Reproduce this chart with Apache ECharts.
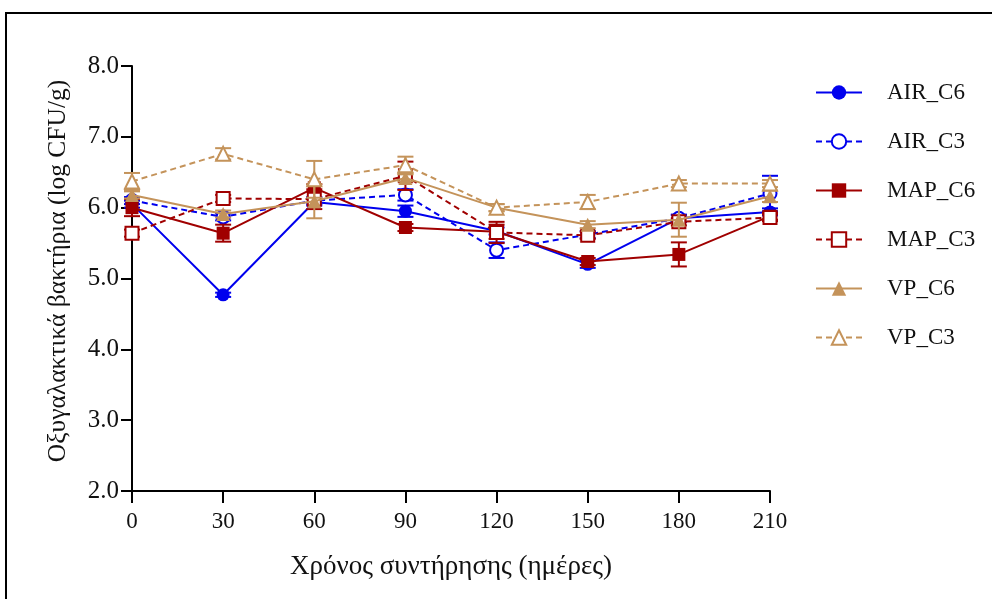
<!DOCTYPE html>
<html>
<head>
<meta charset="utf-8">
<script src="https://cdn.jsdelivr.net/npm/echarts@6/dist/echarts.min.js"></script>
<style>
  html, body { margin: 0; padding: 0; background: #fff; }
  #chart { width: 992px; height: 599px; }
</style>
</head>
<body>
<div id="chart"></div>
<script>
// Storage time (days)
const days = [0, 30, 60, 90, 120, 150, 180, 210];
const xTicks = [0, 30, 60, 90, 120, 150, 180, 210];
const yTicks = [2, 3, 4, 5, 6, 7, 8];

// Mean lactic acid bacteria counts (log CFU/g)
const AIR_C6 = [6.05, 4.77, 6.08, 5.95, 5.67, 5.20, 5.85, 5.94];
const AIR_C3 = [6.10, 5.87, 6.10, 6.18, 5.40, 5.62, 5.85, 6.20];
const MAP_C6 = [6.00, 5.64, 6.28, 5.72, 5.66, 5.24, 5.34, 5.88];
const MAP_C3 = [5.64, 6.13, 6.12, 6.45, 5.65, 5.61, 5.80, 5.86];
const VP_C6  = [6.18, 5.91, 6.09, 6.42, 6.00, 5.76, 5.83, 6.16];
const VP_C3  = [6.37, 6.76, 6.40, 6.60, 6.00, 6.08, 6.34, 6.34];

// Standard deviations
const AIR_C6_sd = [0.05, 0.03, 0.05, 0.08, 0.05, 0.05, 0.05, 0.05];
const AIR_C3_sd = [0.05, 0.05, 0.05, 0.08, 0.11, 0.05, 0.05, 0.25];
const MAP_C6_sd = [0.12, 0.12, 0.05, 0.05, 0.10, 0.05, 0.17, 0.05];
const MAP_C3_sd = [0.05, 0.05, 0.14, 0.20, 0.15, 0.05, 0.05, 0.05];
const VP_C6_sd  = [0.05, 0.05, 0.24, 0.05, 0.05, 0.05, 0.24, 0.08];
const VP_C3_sd  = [0.12, 0.08, 0.26, 0.12, 0.05, 0.10, 0.05, 0.05];

const yTitle = 'Οξυγαλακτικά βακτήρια (log CFU/g)';
const xTitle = 'Χρόνος συντήρησης (ημέρες)';

const BLUE = '#0000ee';
const RED = '#a00000';
const TAN = '#c4935a';
const FONT = '"Liberation Serif", "DejaVu Serif", serif';

const seriesDefs = [
  { name: 'AIR_C6', values: AIR_C6, sd: AIR_C6_sd, color: BLUE, symbol: 'circle', open: false, dashed: false, size: 13 },
  { name: 'AIR_C3', values: AIR_C3, sd: AIR_C3_sd, color: BLUE, symbol: 'circle', open: true, dashed: true, size: 13 },
  { name: 'MAP_C6', values: MAP_C6, sd: MAP_C6_sd, color: RED, symbol: 'rect', open: false, dashed: false, size: 13 },
  { name: 'MAP_C3', values: MAP_C3, sd: MAP_C3_sd, color: RED, symbol: 'rect', open: true, dashed: true, size: 13 },
  { name: 'VP_C6', values: VP_C6, sd: VP_C6_sd, color: TAN, symbol: 'triangle', open: false, dashed: false, size: 14 },
  { name: 'VP_C3', values: VP_C3, sd: VP_C3_sd, color: TAN, symbol: 'triangle', open: true, dashed: true, size: 14 }
];

function errorBarRender(color) {
  return function (params, api) {
    const x = api.value(0);
    const lo = api.coord([x, api.value(1)]);
    const hi = api.coord([x, api.value(2)]);
    const half = 8;
    const style = { stroke: color, lineWidth: 2 };
    return {
      type: 'group',
      children: [
        { type: 'line', shape: { x1: lo[0], y1: lo[1], x2: hi[0], y2: hi[1] }, style: style },
        { type: 'line', shape: { x1: lo[0] - half, y1: lo[1], x2: lo[0] + half, y2: lo[1] }, style: style },
        { type: 'line', shape: { x1: hi[0] - half, y1: hi[1], x2: hi[0] + half, y2: hi[1] }, style: style }
      ]
    };
  };
}

const series = [];
seriesDefs.forEach((d, i) => {
  series.push({
    name: d.name + '_err',
    type: 'custom',
    renderItem: errorBarRender(d.color),
    data: days.map((x, k) => [x, d.values[k] - d.sd[k], d.values[k] + d.sd[k]]),
    encode: { x: 0, y: [1, 2] },
    z: 2 + i * 2,
    silent: true
  });
  series.push({
    name: d.name,
    type: 'line',
    data: days.map((x, k) => [x, d.values[k]]),
    symbol: d.symbol,
    symbolSize: d.size,
    showAllSymbol: true,
    z: 3 + i * 2,
    lineStyle: { color: d.color, width: 2, type: d.dashed ? [6, 4] : 'solid' },
    itemStyle: {
      color: d.open ? '#ffffff' : d.color,
      borderColor: d.color,
      borderWidth: d.open ? 2 : 0,
      opacity: 1
    },
    emphasis: { disabled: true },
    animation: false
  });
});

const chart = echarts.init(document.getElementById('chart'), null, { renderer: 'canvas' });
chart.setOption({
  animation: false,
  backgroundColor: '#ffffff',
  graphic: [
    {
      type: 'rect',
      shape: { x: 6, y: 13, width: 1200, height: 1000 },
      style: { fill: 'none', stroke: '#000', lineWidth: 2 },
      silent: true,
      z: -1
    },
    {
      type: 'text',
      x: 58,
      y: 271,
      rotation: Math.PI / 2,
      style: {
        text: yTitle,
        font: '25.5px "Liberation Serif", "DejaVu Serif", serif',
        fill: '#111',
        align: 'center',
        verticalAlign: 'middle'
      },
      silent: true
    }
  ],
  grid: { left: 132, top: 66, width: 638, height: 425, containLabel: false },
  legend: {
    orient: 'vertical',
    left: 815,
    top: 81,
    padding: 0,
    itemWidth: 46,
    itemHeight: 18,
    itemGap: 26,
    data: seriesDefs.map(d => d.name),
    textStyle: { fontFamily: FONT, fontSize: 23, color: '#111', padding: [0, 0, 0, 20] },
    selectedMode: false
  },
  xAxis: {
    type: 'value',
    min: xTicks[0],
    max: xTicks[xTicks.length - 1],
    interval: 30,
    name: xTitle,
    nameLocation: 'middle',
    nameGap: 62,
    nameTextStyle: { fontFamily: FONT, fontSize: 27, color: '#111' },
    axisLine: { show: true, lineStyle: { color: '#000', width: 2 } },
    axisTick: { show: true, length: 12, lineStyle: { color: '#000', width: 2 } },
    axisLabel: { fontFamily: FONT, fontSize: 23, color: '#111', margin: 19 },
    splitLine: { show: false }
  },
  yAxis: {
    type: 'value',
    min: yTicks[0],
    max: yTicks[yTicks.length - 1],
    interval: 1,
    axisLine: { show: true, lineStyle: { color: '#000', width: 2 } },
    axisTick: { show: true, length: 11, lineStyle: { color: '#000', width: 2 } },
    axisLabel: {
      fontFamily: FONT, fontSize: 25, color: '#111', margin: 13,
      formatter: v => v.toFixed(1)
    },
    splitLine: { show: false }
  },
  series: series
});
</script>
</body>
</html>
